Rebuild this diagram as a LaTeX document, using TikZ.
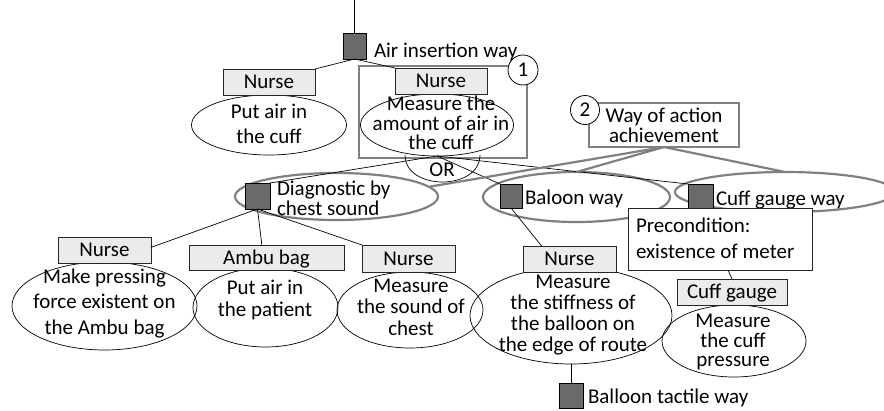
\documentclass[tikz,border=0pt]{standalone}
\usepackage{fontspec}
\setmainfont{Carlito}
\usetikzlibrary{shapes.geometric,calc}
\definecolor{sqgray}{HTML}{6A6A6A}
\definecolor{boxgray}{HTML}{EBEBEB}
\definecolor{framegray}{HTML}{808080}
\begin{document}
\begin{tikzpicture}[x=1pt,y=-1pt,
  every node/.style={inner sep=0pt, outer sep=0pt},
  fnt/.style={font=\fontsize{21}{#1}\selectfont},
  fnt/.default=22,
  sq/.style={draw=black, fill=sqgray, line width=0.8pt},
  actor/.style={draw=black!85, fill=boxgray, line width=0.9pt, fnt, text height=13.5pt, text depth=0pt},
  ell/.style={ellipse, draw=black, line width=0.7pt},
  way/.style={ellipse, draw=framegray, line width=2.2pt},
  gline/.style={draw=framegray, line width=2.2pt},
  tline/.style={draw=black, line width=0.7pt},
  num/.style={circle, draw=black, fill=white, line width=0.8pt, fnt},
  lbl/.style={align=center, fnt=#1},
  lbl/.default=22,
]
\useasboundingbox (0,0) rectangle (884,410);
\clip (0,0) rectangle (884,410);

% ---- top part
\coordinate (topA) at (354.5,0);
\node[sq, minimum width=23pt, minimum height=26pt] (sqA) at (354.5,46) {};
\node[fnt, anchor=base west] (tA) at (374,57) {Air insertion way};

\node[draw=framegray, line width=2.2pt, minimum width=168pt, minimum height=92pt] (frame1) at (443,112) {};

\node[ell, minimum width=155pt, minimum height=60pt] (ellL) at (269,125) {};
\node[lbl=25] (ellLt) at (269,124) {Put air in\\the cuff};
\node[actor, minimum width=92pt, minimum height=26pt] (nurseL) at (269,82) {Nurse};

\node[ell, minimum width=153pt, minimum height=62pt] (ellM) at (437,125) {};
\node[lbl=19.5] (ellMt) at (441,123) {Measure the\\amount of air in\\the cuff};
\node[actor, minimum width=92pt, minimum height=26pt] (nurseM) at (441,81) {Nurse};

\node[num, minimum size=30pt] (c1) at (523,70) {1};

\draw[tline] (topA) -- (sqA.north);
\draw[tline] (sqA.south) -- (nurseL.north east);
\draw[tline] (sqA.south) -- (nurseM.north west);

% ---- OR
\node[fnt] (orT) at (442,170) {OR};
\draw[tline] (405,155) .. controls (405,191) and (480,191) .. (480,155);

% ---- ways
\node[way, minimum width=203pt, minimum height=47pt] (ellD) at (336.5,196.5) {};
\node[sq, minimum width=25pt, minimum height=26pt] (sqD) at (257.5,196) {};
\node[fnt=20, align=left, anchor=west] (tD) at (277,198) {Diagnostic by\\chest sound};

\node[way, minimum width=187pt, minimum height=50pt] (ellB) at (576.5,197) {};
\node[sq, minimum width=22pt, minimum height=24pt] (sqB) at (511,196) {};
\node[fnt, anchor=base west] (tB) at (525,204) {Baloon way};

\node[way, minimum width=220pt, minimum height=40pt] (ellC) at (785,192) {};
\node[sq, minimum width=25pt, minimum height=24pt] (sqC) at (700.5,196) {};
\node[fnt, anchor=base west] (tC) at (716,205) {Cuff gauge way};

\draw[tline] (ellM.south) -- (sqD.north east);
\draw[tline] (ellM.south) -- (sqB.north west);
\draw[tline] (ellM.south) -- (sqC.north west);

\node[draw=framegray, line width=2.2pt, minimum width=150pt, minimum height=44pt, lbl=20] (wayBox) at (664,125) {Way of action\\achievement};
\node[num, minimum size=29pt] (c2) at (585,110) {2};
\draw[gline] (wayBox.south) -- (ellD.6);
\draw[gline] (wayBox.south) -- (ellB.north);
\draw[gline] (wayBox.south) -- (ellC.north);

% ---- diagnostic subtree
\node[ell, minimum width=185pt, minimum height=88pt] (ell1) at (104.5,306) {};
\node[lbl=25.7] (ell1t) at (104.5,303.5) {Make pressing\\force existent on\\the Ambu bag};
\node[actor, minimum width=93pt, minimum height=26pt] (nurse1) at (104.5,250) {Nurse};

\node[ell, minimum width=145pt, minimum height=79pt] (ell2) at (265.5,307.5) {};
\node[lbl=22.7] (ell2t) at (265,300) {Put air in\\the patient};
\node[actor, minimum width=155pt, minimum height=25pt] (ambu) at (266.5,257.5) {Ambu bag};

\node[ell, minimum width=146pt, minimum height=76pt] (ell3) at (410,310) {};
\node[lbl=21.5] (ell3t) at (411,307) {Measure\\the sound of\\chest};
\node[actor, minimum width=93pt, minimum height=27pt] (nurse3) at (408.5,258.5) {Nurse};

\draw[tline] (sqD.south) -- ($(nurse1.north east)!0.4!(nurse1.south east)$);
\draw[tline] (sqD.south) -- ($(ambu.north west)!0.47!(ambu.north east)$);
\draw[tline] (sqD.south) -- (nurse3.north west);

% ---- balloon subtree
\node[ell, minimum width=202pt, minimum height=97pt] (ellBal) at (571,315.5) {};
\node[lbl=21] (ellBalt) at (573,315) {Measure\\the stiffness of\\the balloon on\\the edge of route};
\node[actor, minimum width=93pt, minimum height=26pt] (nurseB) at (569.5,259) {Nurse};
\draw[tline] (sqB.south) -- ($(nurseB.north west)!0.2!(nurseB.north east)$);

\node[sq, minimum width=24pt, minimum height=25pt] (sqT) at (571,395.5) {};
\node[fnt, anchor=base west] (tT) at (588,403) {Balloon tactile way};
\draw[tline] (ellBal.south) -- (sqT.north);

% ---- cuff gauge subtree
\node[ell, minimum width=144pt, minimum height=72pt] (ellCuff) at (734,341) {};
\node[lbl=19.5] (ellCufft) at (733,342) {Measure\\the cuff\\pressure};
\node[actor, minimum width=110pt, minimum height=26pt] (cuffBox) at (732,292) {Cuff gauge};
\draw[tline] (sqC.south) -- (cuffBox.north);

\node[draw=black!85, fill=white, line width=0.9pt, minimum width=184pt, minimum height=62pt] (precond) at (720,239) {};
\node[fnt=26, align=left, anchor=west] (precondt) at (636,238.5) {Precondition:\\existence of meter};
\end{tikzpicture}
\end{document}
